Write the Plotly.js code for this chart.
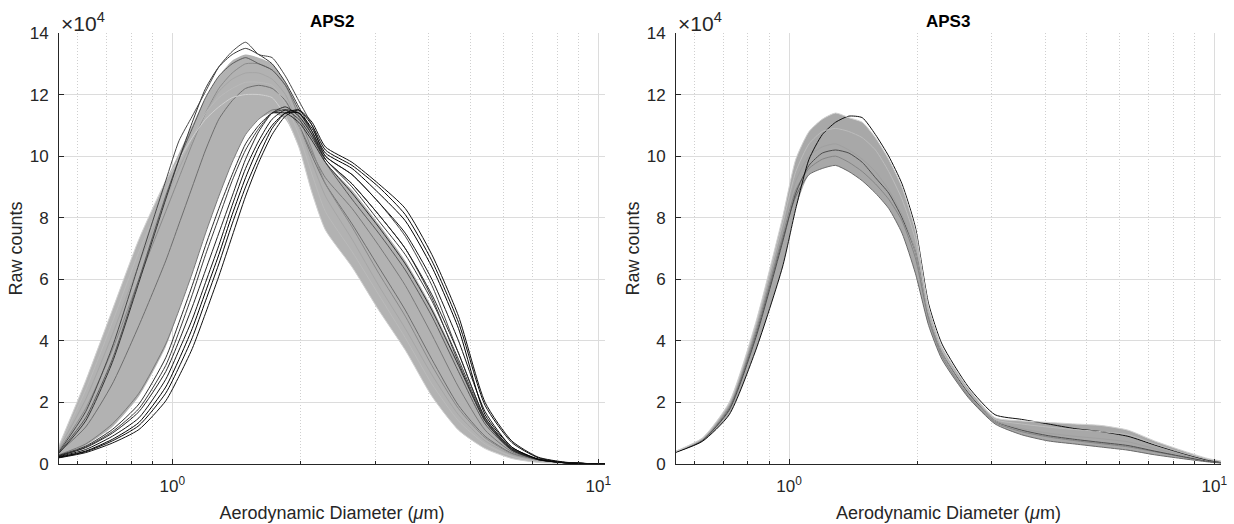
<!DOCTYPE html>
<html><head><meta charset="utf-8">
<script src="https://cdn.plot.ly/plotly-3.0.1.min.js"></script>
<style>html,body{margin:0;padding:0;background:#fff;} #chart{width:1234px;height:524px;}</style>
</head><body><div id="chart"></div>
<script>
// Aerodynamic diameter channels (µm)
const diameterUm = [0.542, 0.626, 0.723, 0.835, 0.965, 1.037, 1.114, 1.197, 1.286, 1.382, 1.486, 1.596, 1.715, 1.843, 1.981, 2.129, 2.288, 2.642, 3.051, 3.523, 4.068, 4.698, 5.425, 6.264, 7.234, 8.354, 9.647, 10.37];

// Tick labels
const xMajorTicks = [1, 10];
const xMajorLabels = ['10<sup>0</sup>', '10<sup>1</sup>'];
const xMinorTicks = [0.6, 0.7, 0.8, 0.9, 2, 3, 4, 5, 6, 7, 8, 9];
const yTicks = [0, 2, 4, 6, 8, 10, 12, 14];
const yLabels = ['0', '2', '4', '6', '8', '10', '12', '14'];

// APS2 raw counts (x10^4)
const aps2Black1 = [0.22, 0.42, 0.8, 1.35, 2.5, 3.4, 4.4, 5.6, 6.8, 8.1, 9.3, 10.3, 11.0, 11.4, 11.4, 10.9, 10.1, 9.6, 8.8, 7.9, 6.4, 4.4, 1.6, 0.55, 0.15, 0.04, 0.01, 0];
const aps2Black2 = [0.24, 0.47, 0.9, 1.5, 2.75, 3.7, 4.7, 5.9, 7.1, 8.4, 9.6, 10.5, 11.2, 11.5, 11.4, 10.8, 10.0, 9.4, 8.5, 7.5, 6.0, 4.0, 1.7, 0.55, 0.16, 0.04, 0.01, 0];
const aps2Black3 = [0.26, 0.53, 1.0, 1.7, 3.0, 4.0, 5.1, 6.3, 7.5, 8.7, 9.9, 10.8, 11.4, 11.6, 11.3, 10.7, 9.9, 9.1, 8.1, 7.0, 5.5, 3.6, 1.5, 0.5, 0.15, 0.04, 0.01, 0];
const aps2Black4 = [0.21, 0.4, 0.75, 1.25, 2.3, 3.15, 4.1, 5.3, 6.5, 7.8, 9.0, 10.0, 10.9, 11.4, 11.5, 11.0, 10.2, 9.7, 9.0, 8.1, 6.6, 4.6, 1.9, 0.7, 0.2, 0.05, 0.01, 0];
const aps2Black5 = [0.2, 0.37, 0.68, 1.12, 2.05, 2.85, 3.75, 4.9, 6.1, 7.4, 8.7, 9.8, 10.7, 11.3, 11.5, 11.1, 10.3, 9.8, 9.1, 8.3, 6.8, 4.8, 2.0, 0.75, 0.22, 0.06, 0.01, 0];
const aps2Dark1 = [0.4, 1.7, 3.8, 6.5, 9.2, 10.5, 11.3, 12.1, 12.9, 13.4, 13.7, 13.3, 13.2, 12.6, 11.8, 11.0, 10.0, 9.4, 8.5, 7.4, 5.8, 3.6, 1.5, 0.5, 0.15, 0.05, 0.01, 0];
const aps2Dark2 = [0.35, 1.4, 3.3, 5.9, 8.6, 9.9, 11.1, 12.2, 12.9, 13.3, 13.5, 13.3, 13.0, 12.4, 11.6, 10.8, 9.9, 9.1, 8.1, 7.0, 5.4, 3.3, 1.4, 0.45, 0.14, 0.04, 0.01, 0];
const aps2Dark3 = [0.38, 1.5, 3.4, 6.0, 8.7, 9.9, 10.9, 11.9, 12.6, 13.0, 13.2, 13.0, 12.8, 12.3, 11.5, 10.7, 9.8, 8.6, 7.5, 6.3, 4.8, 3.0, 1.3, 0.45, 0.14, 0.04, 0.01, 0];
const aps2Dark4 = [0.26, 0.55, 1.05, 1.8, 3.2, 4.3, 5.5, 6.8, 8.0, 9.2, 10.2, 10.9, 11.4, 11.5, 11.2, 10.6, 9.9, 9.0, 7.9, 6.8, 5.3, 3.4, 1.45, 0.5, 0.15, 0.04, 0.01, 0];
const aps2Dark5 = [0.28, 0.58, 1.12, 1.95, 3.45, 4.6, 5.8, 7.1, 8.3, 9.4, 10.4, 11.0, 11.4, 11.4, 11.1, 10.5, 9.8, 8.8, 7.7, 6.5, 5.0, 3.2, 1.4, 0.48, 0.14, 0.04, 0.01, 0];
const aps2Mid1 = [0.45, 1.8, 3.7, 6.0, 8.2, 9.3, 10.4, 11.4, 12.2, 12.7, 13.0, 13.0, 12.8, 12.3, 11.3, 10.2, 9.1, 7.7, 6.2, 4.8, 3.2, 1.8, 0.85, 0.33, 0.11, 0.04, 0.01, 0];
const aps2Mid2 = [0.38, 1.2, 2.6, 4.5, 6.6, 7.8, 9.0, 10.2, 11.2, 11.8, 12.2, 12.3, 12.2, 11.8, 11.0, 10.0, 9.1, 7.8, 6.4, 5.0, 3.4, 1.9, 0.9, 0.35, 0.12, 0.04, 0.01, 0];
const aps2Mid3 = [0.3, 0.65, 1.3, 2.3, 3.9, 5.0, 6.2, 7.5, 8.7, 9.8, 10.7, 11.2, 11.5, 11.5, 11.0, 10.1, 9.3, 8.3, 7.1, 5.8, 4.2, 2.5, 1.1, 0.4, 0.13, 0.04, 0.01, 0];
const aps2Light1 = [0.6, 2.7, 5.0, 7.3, 9.2, 9.9, 10.6, 11.2, 11.6, 11.9, 12.0, 12.0, 11.9, 11.3, 10.3, 8.8, 7.6, 6.4, 5.0, 3.7, 2.2, 1.1, 0.5, 0.18, 0.05, 0.02, 0, 0];
const aps2Light2 = [0.55, 2.4, 4.6, 6.9, 8.9, 9.8, 10.6, 11.4, 11.9, 12.2, 12.4, 12.4, 12.3, 11.7, 10.7, 9.4, 8.2, 6.9, 5.5, 4.1, 2.6, 1.4, 0.65, 0.25, 0.08, 0.03, 0.01, 0];
const aps2Light3 = [0.5, 2.1, 4.2, 6.5, 8.6, 9.6, 10.5, 11.4, 12.1, 12.5, 12.7, 12.7, 12.5, 12.0, 11.0, 9.8, 8.7, 7.3, 5.8, 4.4, 2.9, 1.6, 0.75, 0.3, 0.1, 0.03, 0.01, 0];
const aps2BandLow = [0.28, 0.6, 1.2, 2.2, 3.8, 5.0, 6.2, 7.5, 8.7, 9.8, 10.7, 11.2, 11.4, 11.2, 10.3, 8.8, 7.6, 6.4, 5.0, 3.7, 2.2, 1.1, 0.5, 0.18, 0.05, 0.02, 0, 0];
const aps2BandHigh = [0.6, 2.7, 5.0, 7.3, 9.2, 10.1, 11.0, 11.9, 12.6, 13.1, 13.3, 13.2, 13.0, 12.4, 11.5, 10.7, 9.8, 8.9, 7.8, 6.6, 5.1, 3.3, 1.4, 0.5, 0.15, 0.04, 0.01, 0];

// APS3 raw counts (x10^4)
const aps3Black1 = [0.38, 0.74, 1.6, 3.7, 6.4, 8.3, 9.9, 10.7, 11.1, 11.3, 11.25, 10.7, 10.0, 9.1, 7.7, 5.2, 3.9, 2.5, 1.6, 1.45, 1.3, 1.15, 1.05, 0.9, 0.62, 0.36, 0.13, 0.07];
const aps3Dark1 = [0.39, 0.77, 1.75, 4.1, 7.2, 8.8, 9.7, 10.1, 10.2, 10.1, 9.8, 9.3, 8.8, 8.0, 6.9, 4.8, 3.6, 2.3, 1.4, 1.1, 0.92, 0.8, 0.7, 0.6, 0.42, 0.25, 0.09, 0.04];
const aps3Mid1 = [0.4, 0.76, 1.8, 4.2, 7.3, 8.7, 9.4, 9.6, 9.7, 9.5, 9.2, 8.8, 8.3, 7.5, 6.2, 4.5, 3.4, 2.15, 1.3, 0.95, 0.75, 0.65, 0.55, 0.45, 0.3, 0.18, 0.07, 0.03];
const aps3Mid2 = [0.4, 0.78, 1.85, 4.3, 7.4, 8.9, 9.6, 9.9, 10.0, 9.8, 9.5, 9.1, 8.6, 7.9, 6.7, 4.7, 3.5, 2.2, 1.35, 1.05, 0.88, 0.76, 0.66, 0.56, 0.4, 0.24, 0.09, 0.04];
const aps3Mid3 = [0.4, 0.8, 1.9, 4.4, 7.6, 9.2, 10.0, 10.3, 10.4, 10.2, 9.9, 9.5, 8.9, 8.1, 6.9, 4.8, 3.6, 2.25, 1.4, 1.15, 1.0, 0.9, 0.82, 0.72, 0.5, 0.3, 0.12, 0.06];
const aps3Light1 = [0.41, 0.83, 1.95, 4.5, 7.8, 9.5, 10.4, 10.8, 10.9, 10.8, 10.6, 10.2, 9.5, 8.6, 7.3, 4.9, 3.7, 2.35, 1.45, 1.3, 1.2, 1.12, 1.05, 0.95, 0.65, 0.38, 0.15, 0.08];
const aps3Light2 = [0.42, 0.85, 2.0, 4.6, 8.0, 9.9, 10.8, 11.2, 11.4, 11.25, 11.1, 10.6, 9.9, 9.0, 7.6, 5.1, 3.8, 2.45, 1.5, 1.4, 1.35, 1.3, 1.25, 1.1, 0.75, 0.45, 0.18, 0.1];
const aps3BandLow = [0.38, 0.74, 1.6, 3.7, 6.4, 8.3, 9.4, 9.6, 9.7, 9.5, 9.2, 8.8, 8.3, 7.5, 6.2, 4.5, 3.4, 2.15, 1.3, 0.95, 0.75, 0.65, 0.55, 0.45, 0.3, 0.18, 0.07, 0.03];
const aps3BandHigh = [0.42, 0.85, 2.0, 4.6, 8.0, 9.9, 10.8, 11.2, 11.4, 11.25, 11.1, 10.6, 9.9, 9.0, 7.6, 5.1, 3.8, 2.45, 1.5, 1.4, 1.35, 1.3, 1.25, 1.1, 0.75, 0.45, 0.18, 0.1];

// Styles (kept apart from the data)
const aps2Lines = [
  [aps2Mid3, '#7a7a7a'], [aps2Mid2, '#6e6e6e'], [aps2Mid1, '#8a8a8a'],
  [aps2Light3, '#a6a6a6'], [aps2Light2, '#bababa'], [aps2Light1, '#d0d0d0'],
  [aps2Dark3, '#5a5a5a'], [aps2Dark2, '#333333'], [aps2Dark1, '#474747'], [aps2Dark4, '#3c3c3c'], [aps2Dark5, '#2e2e2e'],
  [aps2Black3, '#262626'], [aps2Black2, '#151515'], [aps2Black1, '#000000'], [aps2Black4, '#0a0a0a'], [aps2Black5, '#111111']
];
const aps3Lines = [
  [aps3Mid1, '#6a6a6a'], [aps3Mid2, '#858585'], [aps3Dark1, '#4d4d4d'], [aps3Mid3, '#a0a0a0'],
  [aps3Black1, '#0d0d0d'], [aps3Light1, '#bcbcbc'], [aps3Light2, '#d0d0d0']
];

const FONT = 'Liberation Sans, Arial, Helvetica, sans-serif';
const AXC = '#262626';
const traces = [];
function band(low, high, fillcolor, xa, ya) {
  traces.push({x: diameterUm, y: low, xaxis: xa, yaxis: ya, mode: 'lines', line: {width: 0, color: fillcolor, shape: 'spline', smoothing: 0.6}, hoverinfo: 'skip', showlegend: false});
  traces.push({x: diameterUm, y: high, xaxis: xa, yaxis: ya, mode: 'lines', fill: 'tonexty', fillcolor: fillcolor, line: {width: 0, color: fillcolor, shape: 'spline', smoothing: 0.6}, hoverinfo: 'skip', showlegend: false});
}
band(aps2BandLow, aps2BandHigh, '#b2b2b2', 'x', 'y');
aps2Lines.forEach(([vals, c]) => traces.push({x: diameterUm, y: vals, xaxis: 'x', yaxis: 'y', mode: 'lines', line: {color: c, width: 1, shape: 'spline', smoothing: 0.6}, showlegend: false}));
band(aps3BandLow, aps3BandHigh, '#a8a8a8', 'x2', 'y2');
aps3Lines.forEach(([vals, c]) => traces.push({x: diameterUm, y: vals, xaxis: 'x2', yaxis: 'y2', mode: 'lines', line: {color: c, width: 1, shape: 'spline', smoothing: 0.6}, showlegend: false}));

function xAxis(domain, anchor) {
  return {
    type: 'log', domain: domain, anchor: anchor,
    range: [Math.log10(0.542), Math.log10(10.37)],
    tickmode: 'array', tickvals: xMajorTicks, ticktext: xMajorLabels,
    ticks: 'inside', ticklen: 5, tickcolor: AXC, ticklabelstandoff: 7,
    showgrid: true, gridcolor: '#dcdcdc', gridwidth: 1,
    minor: {tickmode: 'array', tickvals: xMinorTicks, ticks: 'inside', ticklen: 3, tickcolor: AXC, showgrid: true, gridcolor: '#cfcfcf', griddash: '1px,2px', gridwidth: 1},
    showline: true, linecolor: AXC, linewidth: 1, zeroline: false, automargin: false,
    tickfont: {family: FONT, size: 17, color: AXC},
    title: {text: 'Aerodynamic Diameter (<i>μ</i>m)', font: {family: FONT, size: 18, color: AXC}, standoff: 10}
  };
}
function yAxis(anchor) {
  return {
    domain: [0, 1], anchor: anchor, range: [0, 14],
    tickmode: 'array', tickvals: yTicks, ticktext: yLabels,
    ticks: 'inside', ticklen: 5, tickcolor: AXC, ticklabelstandoff: 6,
    showgrid: true, gridcolor: '#dcdcdc', gridwidth: 1,
    showline: true, linecolor: AXC, linewidth: 1, zeroline: false, automargin: false,
    tickfont: {family: FONT, size: 17, color: AXC},
    title: {text: 'Raw counts', font: {family: FONT, size: 18, color: AXC}, standoff: 2}
  };
}

const layout = {
  width: 1234, height: 524,
  margin: {l: 59, r: 13, t: 33, b: 60},
  paper_bgcolor: '#ffffff', plot_bgcolor: '#ffffff',
  showlegend: false,
  xaxis: xAxis([0, 0.46988], 'y'),
  yaxis: yAxis('x'),
  xaxis2: xAxis([0.53098, 1.0], 'y2'),
  yaxis2: yAxis('x2'),
  annotations: [
    {text: '<b>APS2</b>', xref: 'x domain', yref: 'paper', x: 0.5, y: 1.026, xanchor: 'center', yanchor: 'middle', showarrow: false, font: {family: FONT, size: 17, color: '#000'}},
    {text: '<b>APS3</b>', xref: 'x2 domain', yref: 'paper', x: 0.5, y: 1.026, xanchor: 'center', yanchor: 'middle', showarrow: false, font: {family: FONT, size: 17, color: '#000'}},
    {text: '×10<sup>4</sup>', xref: 'x domain', yref: 'paper', x: 0, y: 0.99, xanchor: 'left', yanchor: 'bottom', showarrow: false, font: {family: FONT, size: 21, color: AXC}},
    {text: '×10<sup>4</sup>', xref: 'x2 domain', yref: 'paper', x: 0, y: 0.99, xanchor: 'left', yanchor: 'bottom', showarrow: false, font: {family: FONT, size: 21, color: AXC}}
  ]
};
Plotly.newPlot('chart', traces, layout, {displayModeBar: false, staticPlot: true});
</script>
</body></html>
